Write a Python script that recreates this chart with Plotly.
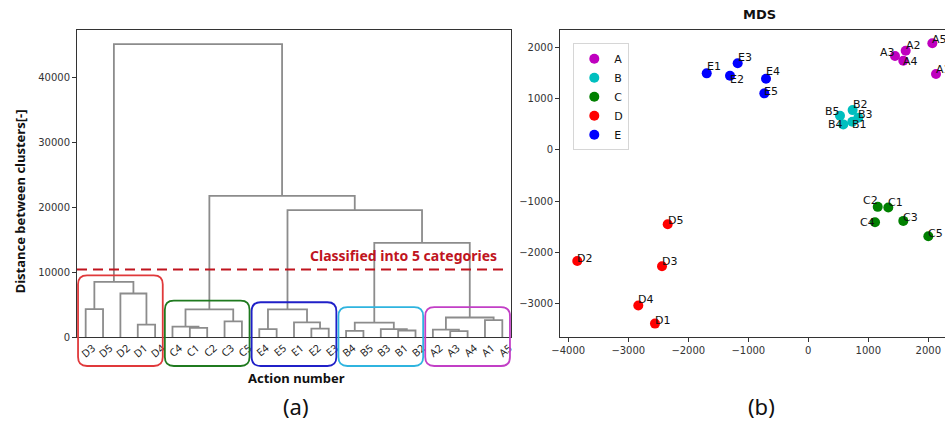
import plotly.graph_objects as go

FIG_W, FIG_H = 945, 423
M_T, M_B = 30, 86.3
PLOT_H = FIG_H - M_T - M_B

# ---------------- Dendrogram data ----------------
leaf_labels = ["D3", "D5", "D2", "D1", "D4",
               "C4", "C1", "C2", "C3", "C5",
               "E4", "E5", "E1", "E2", "E3",
               "B4", "B5", "B3", "B1", "B2",
               "A2", "A3", "A4", "A1", "A5"]
# merge i creates node "n{i}" joining merge_a[i] and merge_b[i] at height merge_h[i]
merge_a = ["D3", "D1", "D2", "n0", "C1", "C4", "C3", "n5", "E4", "E2", "E1", "n8",
           "B4", "B1", "B3", "n12", "A3", "A2", "A1", "n17", "n15", "n11", "n7", "n3"]
merge_b = ["D5", "D4", "n1", "n2", "C2", "n4", "C5", "n6", "E5", "E3", "n9", "n10",
           "B5", "B2", "n13", "n14", "A4", "n16", "A5", "n18", "n19", "n20", "n21", "n22"]
merge_h = [4300, 1900, 6700, 8500, 1400, 1600, 2400, 4250, 1200, 1300, 2250, 4250,
           950, 1000, 1200, 2200, 900, 1150, 2600, 3000, 14500, 19550, 21750, 45100]
threshold = 10400
threshold_text = "Classified into 5 categories"
y_ticks_left = [0, 10000, 20000, 30000, 40000]

# cluster boxes (first leaf index, last leaf index, top height, colour)
cluster_first = [0, 5, 10, 15, 20]
cluster_last = [4, 9, 14, 19, 24]
cluster_top = [9500, 5600, 5350, 4600, 4600]
cluster_colors = ["#e0393b", "#1f7a1f", "#2020c8", "#2fb4df", "#c23fc6"]

# ---------------- MDS data ----------------
groups = ["A", "B", "C", "D", "E"]
group_colors = ["#bf00bf", "#00bfbf", "#008000", "#ff0000", "#0000ff"]
mds_labels = ["A1", "A2", "A3", "A4", "A5",
              "B1", "B2", "B3", "B4", "B5",
              "C1", "C2", "C3", "C4", "C5",
              "D1", "D2", "D3", "D4", "D5",
              "E1", "E2", "E3", "E4", "E5"]
mds_x = [2128, 1623, 1445, 1583, 2067,
         733, 739, 833, 583, 528,
         1333, 1157, 1583, 1112, 2000,
         -2555, -3850, -2438, -2833, -2343,
         -1693, -1305, -1177, -705, -733]
mds_y = [1479, 1934, 1830, 1738, 2078,
         547, 775, 625, 496, 664,
         -1125, -1113, -1387, -1412, -1686,
         -3391, -2168, -2271, -3039, -1451,
         1492, 1445, 1688, 1387, 1102]
# label placement style: side of point and vertical pixel offset
label_side = ["L", "L", "R", "L", "L",
              "L", "L", "L", "R", "R",
              "L", "R", "L", "R", "L",
              "L", "L", "L", "L", "L",
              "L", "L", "L", "L", "L"]
label_dy = [4, 4, 3, -2, 3,
            -4, 5, 2, -1, 3,
            4, 5, 2, -1, 2,
            2, 1, 4, 5, 3,
            6, -5, 5, 6, 1]
x_ticks_right = [-4000, -3000, -2000, -1000, 0, 1000, 2000]
y_ticks_right = [-3000, -2000, -1000, 0, 1000, 2000]

# ---------------- Layout geometry ----------------
X1_DOM = [77 / FIG_W, 511 / FIG_W]
X2_DOM = [560 / FIG_W, 1.0]
X1_RANGE = [0, 250]
Y1_RANGE = [0, 47290]
X2_RANGE = [-4138, 2278]
Y2_RANGE = [-3652, 2338]

def xp(x):
    return X1_DOM[0] + (x - X1_RANGE[0]) / (X1_RANGE[1] - X1_RANGE[0]) * (X1_DOM[1] - X1_DOM[0])

def yp(y):
    return (y - Y1_RANGE[0]) / (Y1_RANGE[1] - Y1_RANGE[0])

def py(pix_from_top):
    return (FIG_H - M_B - pix_from_top) / PLOT_H

# ---------------- Build dendrogram coordinates ----------------
pos = {lab: (5 + 10 * i, 0.0) for i, lab in enumerate(leaf_labels)}
dx, dy = [], []
for i, (a, b, h) in enumerate(zip(merge_a, merge_b, merge_h)):
    xa, ha = pos[a]
    xb, hb = pos[b]
    dx += [xa, xa, xb, xb, None]
    dy += [ha, h, h, hb, None]
    pos["n%d" % i] = ((xa + xb) / 2, h)

fig = go.Figure()
fig.add_trace(go.Scatter(x=dx, y=dy, mode="lines", xaxis="x", yaxis="y",
                         line=dict(color="#8c8c8c", width=1.8),
                         showlegend=False, hoverinfo="skip"))

# threshold line
fig.add_trace(go.Scatter(x=[0, 246], y=[threshold, threshold], mode="lines",
                         xaxis="x", yaxis="y", showlegend=False, hoverinfo="skip",
                         line=dict(color="#c0141e", width=2.2, dash="10px,6px")))

# MDS scatter
for g, col in zip(groups, group_colors):
    idx = [i for i, l in enumerate(mds_labels) if l.startswith(g)]
    fig.add_trace(go.Scatter(x=[mds_x[i] for i in idx], y=[mds_y[i] for i in idx],
                             mode="markers", name=g, xaxis="x2", yaxis="y2",
                             marker=dict(color=col, size=10, line=dict(width=0))))

annotations = []
for lab, x, y, side, ddy in zip(mds_labels, mds_x, mds_y, label_side, label_dy):
    annotations.append(dict(x=x, y=y, xref="x2", yref="y2", text=lab, showarrow=False,
                            xanchor="left" if side == "L" else "right", yanchor="middle",
                            xshift=-2 if side == "L" else 2, yshift=ddy + 1,
                            font=dict(family="DejaVu Sans", size=11, color="#111")))

def paper_text(x, y, text, size, family="Noto Sans", angle=0, color="#111"):
    return dict(x=x, y=y, xref="paper", yref="paper", text=text, showarrow=False,
                xanchor="center", yanchor="middle", textangle=angle,
                font=dict(family=family, size=size, color=color))

annotations += [
    dict(x=188, y=12600, xref="x", yref="y", text="<b>%s</b>" % threshold_text,
         showarrow=False, xanchor="center", yanchor="middle",
         font=dict(family="Noto Sans", size=14, color="#c0141e")),
    paper_text(759 / FIG_W, py(15), "<b>MDS</b>", 13, family="DejaVu Sans"),
    paper_text(296 / FIG_W, py(377.5), "<b>Action number</b>", 13),
    paper_text(19.5 / FIG_W, py(201.7), "<b>Distance between clusters[-]</b>", 13, angle=-90),
    paper_text(296 / FIG_W, py(406), "(a)", 22),
    paper_text(761 / FIG_W, py(406), "(b)", 22),
]

# rounded cluster boxes
shapes = []
rx, ry = 9 / FIG_W, 9 / PLOT_H
box_bottom = yp(-4470)
for f, l, top, col in zip(cluster_first, cluster_last, cluster_top, cluster_colors):
    x0, x1 = xp(10 * f + 0.6), xp(10 * (l + 1) - 0.6)
    y0, y1 = box_bottom, yp(top)
    path = ("M %f,%f L %f,%f Q %f,%f %f,%f L %f,%f Q %f,%f %f,%f L %f,%f Q %f,%f %f,%f "
            "L %f,%f Q %f,%f %f,%f Z") % (
        x0 + rx, y0, x1 - rx, y0, x1, y0, x1, y0 + ry, x1, y1 - ry, x1, y1, x1 - rx, y1,
        x0 + rx, y1, x0, y1, x0, y1 - ry, x0, y0 + ry, x0, y0, x0 + rx, y0)
    shapes.append(dict(type="path", path=path, xref="paper", yref="paper",
                       line=dict(color=col, width=1.8), layer="above"))

axis_line = "#333"
tickfont = dict(family="DejaVu Sans", size=10, color="#333")
fig.update_layout(
    width=FIG_W, height=FIG_H,
    margin=dict(l=0, r=0, t=M_T, b=M_B),
    plot_bgcolor="white", paper_bgcolor="white",
    xaxis=dict(domain=X1_DOM, range=X1_RANGE, anchor="y",
               tickvals=[5 + 10 * i for i in range(len(leaf_labels))], ticktext=leaf_labels,
               tickangle=-40, ticks="", showline=True, mirror=True, linecolor=axis_line,
               showgrid=False, zeroline=False, automargin=False,
               ticklabelshift=7, ticklabelstandoff=0,
               tickfont=dict(family="Noto Sans", size=10.5, color="#222")),
    yaxis=dict(domain=[0, 1], range=Y1_RANGE, anchor="x", tickvals=y_ticks_left,
               tickformat="d",
               ticks="outside", ticklen=4, tickcolor=axis_line, showline=True, mirror=True,
               linecolor=axis_line, showgrid=False, zeroline=False, automargin=False,
               tickfont=tickfont),
    xaxis2=dict(domain=X2_DOM, range=X2_RANGE, anchor="y2", tickvals=x_ticks_right,
                tickformat="d",
                ticks="outside", ticklen=4, tickcolor=axis_line, showline=True, mirror=True,
                linecolor=axis_line, showgrid=False, zeroline=False, automargin=False,
                tickfont=tickfont),
    yaxis2=dict(domain=[0, 1], range=Y2_RANGE, anchor="x2", tickvals=y_ticks_right,
                tickformat="d",
                ticks="outside", ticklen=4, tickcolor=axis_line, showline=True, mirror=False,
                linecolor=axis_line, showgrid=False, zeroline=False, automargin=False,
                tickfont=tickfont),
    legend=dict(x=573.3 / FIG_W, y=py(43.3), xanchor="left", yanchor="top",
                bordercolor="#d6d6d6", borderwidth=1, bgcolor="white",
                font=dict(family="DejaVu Sans", size=11, color="#111"),
                itemsizing="trace", tracegroupgap=0),
    showlegend=True,
    annotations=annotations,
    shapes=shapes,
)

fig.write_html("out.html", config={"displayModeBar": False},
               post_script="document.body.style.margin='0px';document.body.style.overflow='hidden';")
